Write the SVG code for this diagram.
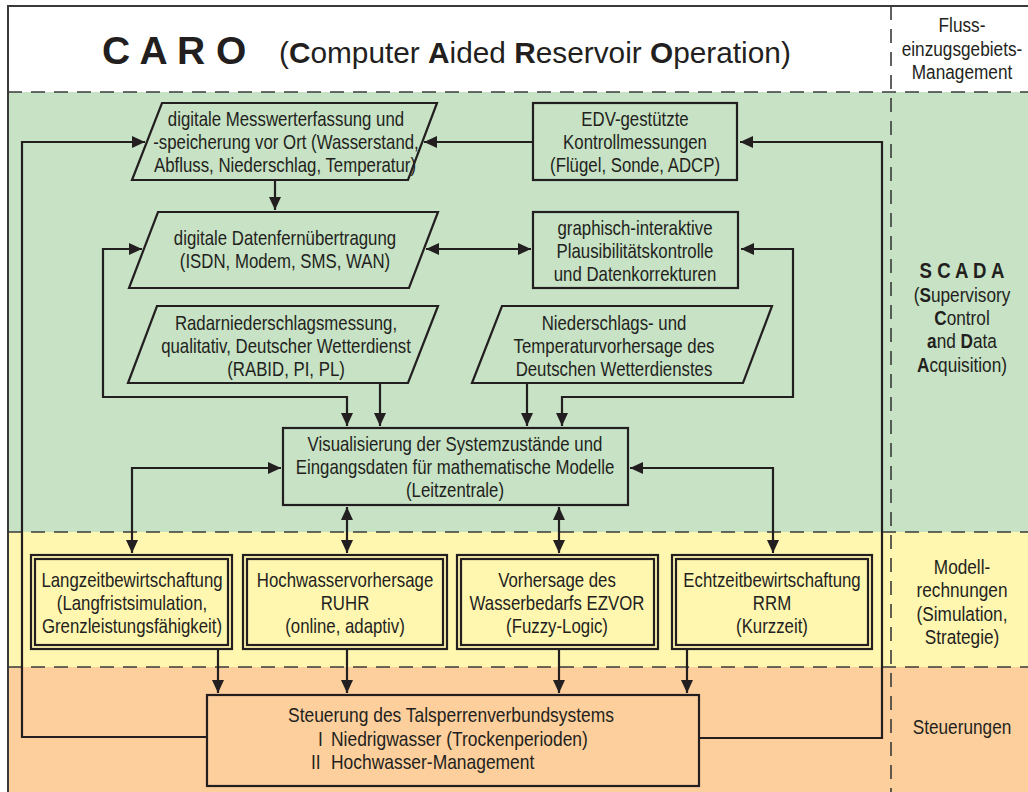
<svg xmlns="http://www.w3.org/2000/svg" width="1028" height="792" viewBox="0 0 1028 792">
<style>
.t{font-family:"Liberation Sans",Arial,sans-serif;font-size:20.5px;fill:#231f20;text-anchor:middle}
.s{text-anchor:start}
.b{font-weight:bold}
.box{fill:none;stroke:#231f20;stroke-width:2.2}
.ln{fill:none;stroke:#231f20;stroke-width:2.2}
.dash{fill:none;stroke:#3a3a3a;stroke-width:1.6;stroke-dasharray:14 9}
</style>
<defs>
<marker id="ah" markerUnits="userSpaceOnUse" markerWidth="13" markerHeight="12" refX="13" refY="6" orient="auto-start-reverse">
<path d="M0,0 L13,6 L0,12 z" fill="#231f20"/>
</marker>
</defs>
<g id="background">
<rect x="8" y="6" width="1020" height="86" fill="#ffffff"/>
<rect x="8" y="92" width="1020" height="440" fill="#c7e2c4"/>
<rect x="8" y="532" width="1020" height="135" fill="#fff6b0"/>
<rect x="8" y="667" width="1020" height="125" fill="#fdcf9c"/>
<path d="M8,792 V6 H1028" fill="none" stroke="#3a3a3a" stroke-width="2"/>
<path class="dash" d="M8,92 H1028 M8,532 H1028 M8,667 H1028 M891,6 V792"/>
</g>
<g id="title">
<text x="102" y="64" font-family="Liberation Sans,Arial,sans-serif" font-size="39" font-weight="bold" fill="#231f20">C A R O</text>
<text x="279" y="63" font-family="Liberation Sans,Arial,sans-serif" font-size="29.8" fill="#231f20">(<tspan font-weight="bold">C</tspan>omputer <tspan font-weight="bold">A</tspan>ided <tspan font-weight="bold">R</tspan>eservoir <tspan font-weight="bold">O</tspan>peration)</text>
</g>
<g id="labels">
<text class="t" transform="translate(962,32) scale(0.84,1)">Fluss-</text>
<text class="t" transform="translate(962,56) scale(0.84,1)">einzugsgebiets-</text>
<text class="t" transform="translate(962,79) scale(0.84,1)">Management</text>
<text class="t b" style="font-size:22.7px" transform="translate(962,278) scale(0.82,1)">S C A D A</text>
<text class="t" transform="translate(962,302) scale(0.84,1)">(<tspan class="b">S</tspan>upervisory</text>
<text class="t" transform="translate(962,325) scale(0.84,1)"><tspan class="b">C</tspan>ontrol</text>
<text class="t" transform="translate(962,348) scale(0.84,1)"><tspan class="b">a</tspan>nd <tspan class="b">D</tspan>ata</text>
<text class="t" transform="translate(962,372) scale(0.84,1)"><tspan class="b">A</tspan>cquisition)</text>
<text class="t" transform="translate(962,574) scale(0.84,1)">Modell-</text>
<text class="t" transform="translate(962,597) scale(0.84,1)">rechnungen</text>
<text class="t" transform="translate(962,621) scale(0.84,1)">(Simulation,</text>
<text class="t" transform="translate(962,644) scale(0.84,1)">Strategie)</text>
<text class="t" transform="translate(962,734) scale(0.84,1)">Steuerungen</text>
</g>
<g id="connectors">
<path class="ln" d="M207,737 H22 V142 H145" marker-end="url(#ah)"/>
<path class="ln" d="M699,738 H882 V142 H740" marker-end="url(#ah)"/>
<path class="ln" d="M533,142 H424" marker-end="url(#ah)"/>
<path class="ln" d="M275,180 V210" marker-end="url(#ah)"/>
<path class="ln" d="M426,249 H531" marker-start="url(#ah)" marker-end="url(#ah)"/>
<path class="ln" d="M142,249 H103 V397 H347 V426" marker-start="url(#ah)" marker-end="url(#ah)"/>
<path class="ln" d="M380,383 V426" marker-end="url(#ah)"/>
<path class="ln" d="M527,383 V426" marker-end="url(#ah)"/>
<path class="ln" d="M741,249 H793 V397 H562 V426" marker-start="url(#ah)" marker-end="url(#ah)"/>
<path class="ln" d="M281,468 H132 V553" marker-start="url(#ah)" marker-end="url(#ah)"/>
<path class="ln" d="M630,468 H773 V553" marker-start="url(#ah)" marker-end="url(#ah)"/>
<path class="ln" d="M347,507 V553" marker-start="url(#ah)" marker-end="url(#ah)"/>
<path class="ln" d="M559,507 V553" marker-start="url(#ah)" marker-end="url(#ah)"/>
<path class="ln" d="M218,650 V693" marker-end="url(#ah)"/>
<path class="ln" d="M347,650 V693" marker-end="url(#ah)"/>
<path class="ln" d="M559,650 V693" marker-end="url(#ah)"/>
<path class="ln" d="M687,650 V693" marker-end="url(#ah)"/>
</g>
<g id="n-messwert">
<path class="box" d="M162,103 H437 L408,180 H132 Z"/>
<text class="t" transform="translate(286,126) scale(0.82,1)">digitale Messwerterfassung und</text>
<text class="t" transform="translate(286,149) scale(0.82,1)">-speicherung vor Ort (Wasserstand,</text>
<text class="t" transform="translate(285,172) scale(0.82,1)">Abfluss, Niederschlag, Temperatur)</text>
</g>
<g id="n-edv">
<rect class="box" x="533" y="103" width="204" height="77"/>
<text class="t" transform="translate(635,126) scale(0.82,1)">EDV-gestützte</text>
<text class="t" transform="translate(635,149) scale(0.82,1)">Kontrollmessungen</text>
<text class="t" transform="translate(635,172) scale(0.82,1)">(Flügel, Sonde, ADCP)</text>
</g>
<g id="n-dfue">
<path class="box" d="M158,212 H438 L409,288 H129 Z"/>
<text class="t" transform="translate(285,245) scale(0.82,1)">digitale Datenfernübertragung</text>
<text class="t" transform="translate(285,268) scale(0.82,1)">(ISDN, Modem, SMS, WAN)</text>
</g>
<g id="n-plaus">
<rect class="box" x="533" y="212" width="205" height="76"/>
<text class="t" transform="translate(635,235) scale(0.82,1)">graphisch-interaktive</text>
<text class="t" transform="translate(635,258) scale(0.82,1)">Plausibilitätskontrolle</text>
<text class="t" transform="translate(635,281) scale(0.82,1)">und Datenkorrekturen</text>
</g>
<g id="n-radar">
<path class="box" d="M157,306 H438 L408,383 H128 Z"/>
<text class="t" transform="translate(286,330) scale(0.82,1)">Radarniederschlagsmessung,</text>
<text class="t" transform="translate(286,353) scale(0.82,1)">qualitativ, Deutscher Wetterdienst</text>
<text class="t" transform="translate(286,376) scale(0.82,1)">(RABID, PI, PL)</text>
</g>
<g id="n-dwd">
<path class="box" d="M502,306 H772 L743,383 H472 Z"/>
<text class="t" transform="translate(614,330) scale(0.82,1)">Niederschlags- und</text>
<text class="t" transform="translate(614,353) scale(0.82,1)">Temperaturvorhersage des</text>
<text class="t" transform="translate(614,376) scale(0.82,1)">Deutschen Wetterdienstes</text>
</g>
<g id="n-leitzentrale">
<rect class="box" x="283" y="428" width="345" height="77"/>
<text class="t" transform="translate(455,451) scale(0.82,1)">Visualisierung der Systemzustände und</text>
<text class="t" transform="translate(455,474) scale(0.82,1)">Eingangsdaten für mathematische Modelle</text>
<text class="t" transform="translate(455,497) scale(0.82,1)">(Leitzentrale)</text>
</g>
<g id="n-langzeit">
<rect class="box" x="31" y="555" width="201" height="94"/>
<rect class="box" x="35" y="559" width="193" height="86"/>
<text class="t" transform="translate(132,587) scale(0.82,1)">Langzeitbewirtschaftung</text>
<text class="t" transform="translate(132,610) scale(0.82,1)">(Langfristsimulation,</text>
<text class="t" transform="translate(132,633) scale(0.82,1)">Grenzleistungsfähigkeit)</text>
</g>
<g id="n-hochwasser">
<rect class="box" x="243" y="555" width="204" height="94"/>
<rect class="box" x="247" y="559" width="196" height="86"/>
<text class="t" transform="translate(345,587) scale(0.82,1)">Hochwasservorhersage</text>
<text class="t" transform="translate(345,610) scale(0.82,1)">RUHR</text>
<text class="t" transform="translate(345,633) scale(0.82,1)">(online, adaptiv)</text>
</g>
<g id="n-ezvor">
<rect class="box" x="457" y="555" width="201" height="94"/>
<rect class="box" x="461" y="559" width="193" height="86"/>
<text class="t" transform="translate(557,587) scale(0.82,1)">Vorhersage des</text>
<text class="t" transform="translate(557,610) scale(0.82,1)">Wasserbedarfs EZVOR</text>
<text class="t" transform="translate(557,633) scale(0.82,1)">(Fuzzy-Logic)</text>
</g>
<g id="n-rrm">
<rect class="box" x="672" y="555" width="200" height="94"/>
<rect class="box" x="676" y="559" width="192" height="86"/>
<text class="t" transform="translate(772,587) scale(0.82,1)">Echtzeitbewirtschaftung</text>
<text class="t" transform="translate(772,610) scale(0.82,1)">RRM</text>
<text class="t" transform="translate(772,633) scale(0.82,1)">(Kurzzeit)</text>
</g>
<g id="n-steuerung">
<rect class="box" x="207" y="695" width="492" height="91"/>
<text class="t" transform="translate(451,722) scale(0.85,1)">Steuerung des Talsperrenverbundsystems</text>
<text class="t s" transform="translate(318,746) scale(0.85,1)">I</text>
<text class="t s" transform="translate(331,746) scale(0.85,1)">Niedrigwasser (Trockenperioden)</text>
<text class="t s" transform="translate(311,769) scale(0.85,1)">II</text>
<text class="t s" transform="translate(331,769) scale(0.85,1)">Hochwasser-Management</text>
</g>
</svg>
